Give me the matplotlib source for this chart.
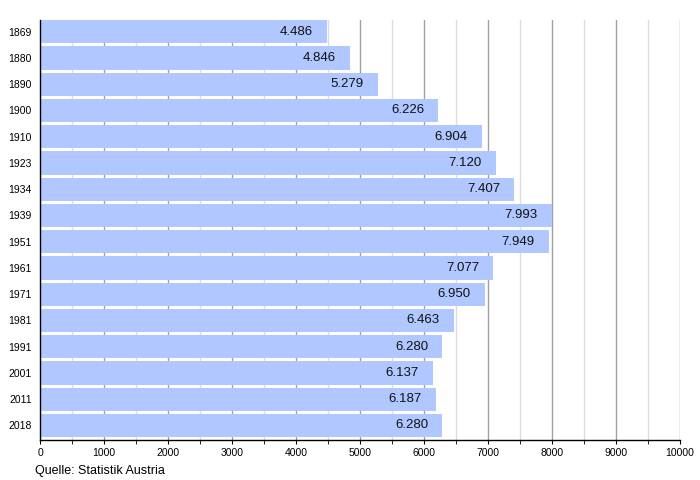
import matplotlib
matplotlib.use("Agg")
import matplotlib.pyplot as plt
import numpy as np
from matplotlib.ticker import MultipleLocator

plt.rcParams['font.family'] = ['Liberation Sans', 'DejaVu Sans']

years = ["1869", "1880", "1890", "1900", "1910", "1923", "1934", "1939",
         "1951", "1961", "1971", "1981", "1991", "2001", "2011", "2018"]
population = [4486, 4846, 5279, 6226, 6904, 7120, 7407, 7993,
              7949, 7077, 6950, 6463, 6280, 6137, 6187, 6280]
value_labels = ["4.486", "4.846", "5.279", "6.226", "6.904", "7.120", "7.407", "7.993",
                "7.949", "7.077", "6.950", "6.463", "6.280", "6.137", "6.187", "6.280"]

fig = plt.figure(figsize=(7, 4.8), dpi=100)
ax = fig.add_axes([40/700, 1-440/480, 640/700, 420/480])

h = 0.89
pos = np.arange(len(years))
ax.barh(pos, population, height=h, color='#b0c8ff', zorder=2)
ax.set_ylim(16 - h/2 - 0.5 + 0.5, -h/2)
ax.set_xlim(0, 10000)

ax.xaxis.set_major_locator(MultipleLocator(1000))
ax.xaxis.set_minor_locator(MultipleLocator(500))
ax.grid(axis='x', which='major', color='#a0a0a0', linewidth=1, zorder=1)
ax.grid(axis='x', which='minor', color='#dddddd', linewidth=1, zorder=1)
ax.grid(axis='y', visible=False)
ax.set_axisbelow(True)

ax.set_yticks(pos)
ax.set_yticklabels(years, fontsize=7.5)
ax.tick_params(axis='y', length=0, pad=6)
ax.tick_params(axis='x', which='both', length=3, direction='out', labelsize=7.5, pad=3)
ax.set_xticklabels([str(int(v)) for v in ax.get_xticks()])

for s in ['top', 'right']:
    ax.spines[s].set_visible(False)
for s in ['left', 'bottom']:
    ax.spines[s].set_color('black')
    ax.spines[s].set_linewidth(1)

for p, v, lab in zip(pos, population, value_labels):
    ax.annotate(lab, xy=(v, p), xytext=(-10, 0), textcoords='offset points',
                ha='right', va='center', fontsize=9.5, color='#111111', zorder=3)

fig.text(35/700, 1-471/480, "Quelle: Statistik Austria", fontsize=9, va='center', ha='left')

fig.savefig("out.png", dpi=100)
